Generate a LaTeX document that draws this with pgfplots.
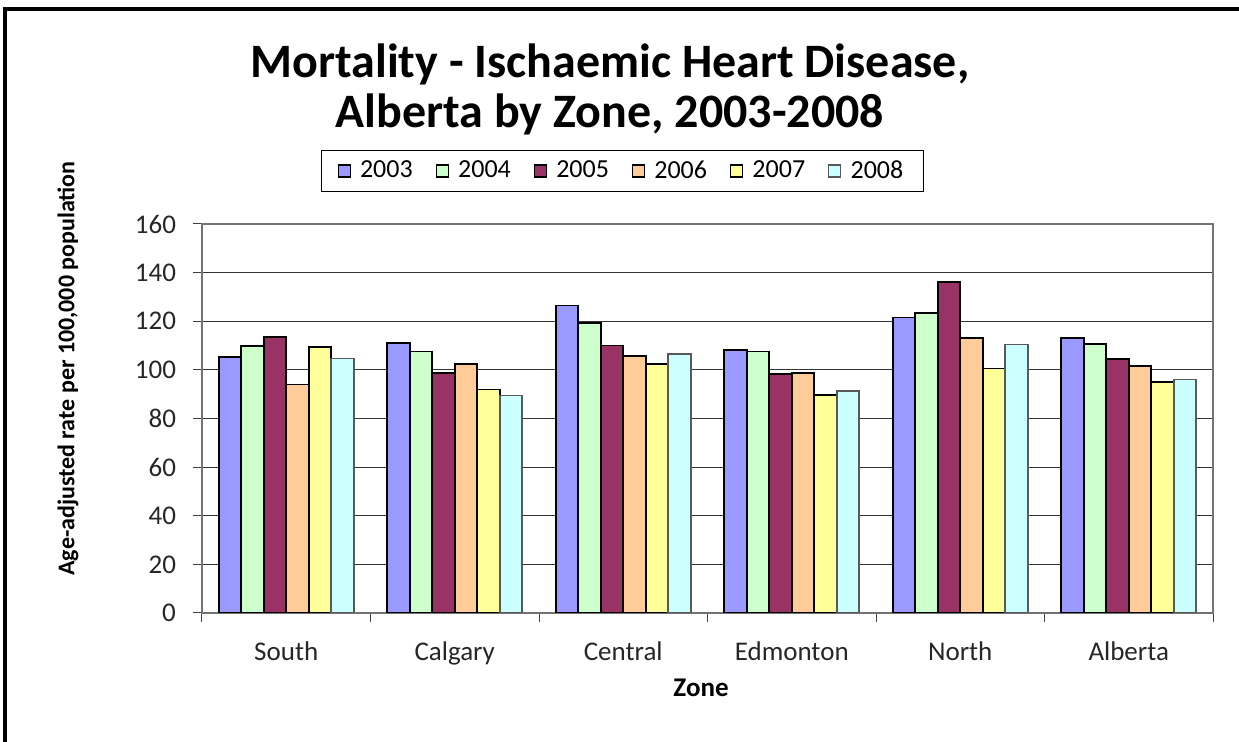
\documentclass[border=0pt]{standalone}
\usepackage{pgfplots}
\pgfplotsset{compat=1.18}
\usepackage{fontspec}
\setmainfont{Carlito}
\definecolor{c2003}{HTML}{9999FF}
\definecolor{c2004}{HTML}{CCFFCC}
\definecolor{c2005}{HTML}{993366}
\definecolor{c2006}{HTML}{FFCC99}
\definecolor{c2007}{HTML}{FFFF99}
\definecolor{c2008}{HTML}{CCFFFF}

\begin{document}
\begin{tikzpicture}
\useasboundingbox (0,0) rectangle (619.5pt,371pt);
% outer chart frame (cut off at right and bottom)
\draw[line width=1.6pt] (2.5pt,0) -- (2.5pt,366.5pt) -- (619.5pt,366.5pt);
\node[anchor=base, font=\bfseries\fontsize{24}{28}\selectfont] at (305pt,332pt) {Mortality - Ischaemic Heart Disease,};
\node[anchor=base, font=\bfseries\fontsize{24}{28}\selectfont] at (305pt,307pt) {Alberta by Zone, 2003-2008};
\begin{axis}[
    at={(101pt,64.5pt)}, anchor=south west,
    scale only axis, width=505.5pt, height=194.5pt,
    ybar, bar width=0.1335,
    xmin=-0.5, xmax=5.5, ymin=0, ymax=160,
    xtick={-0.5,0.5,1.5,2.5,3.5,4.5,5.5},
    x tick label as interval,
    xticklabels={South,Calgary,Central,Edmonton,North,Alberta},
    ytick={0,20,40,60,80,100,120,140,160},
    xtick pos=bottom, ytick pos=left,
    tick align=outside, major tick length=4.5pt,
    tick style={black!75, line width=0.5pt},
    ymajorgrids, grid style={black!80, line width=0.5pt},
    axis line style={black!55, line width=0.8pt},
    /pgf/number format/assume math mode=true,
    ticklabel style={font=\fontsize{13.5}{16}\selectfont, text=black!85},
    xticklabel style={yshift=-6.5pt},
    yticklabel style={xshift=-5pt},
    ylabel={Age-adjusted rate per 100,000 population},
    ylabel style={at={(axis description cs:-0.1325,0.6285)}, anchor=center,
        font=\bfseries\fontsize{12}{14}\selectfont},
    xlabel={Zone},
    xlabel style={at={(axis description cs:0.4936,-0.1928)}, anchor=center,
        font=\bfseries\fontsize{13.5}{16}\selectfont},
    legend columns=6,
    legend image code/.code={\draw[#1,line width=0.6pt] (0pt,-3pt) rectangle (6pt,3pt);
        \path (8.5pt,0pt);},
    legend style={at={(0.4159,1.1362)}, anchor=center, draw=black, line width=0.5pt,
        font=\fontsize{13}{15}\selectfont, inner xsep=8pt, inner ysep=3pt,
        /tikz/every even column/.append style={column sep=9.5pt}},
]
\addplot[fill=c2003, draw=black, line width=0.8pt, bar shift=-0.33375]
    coordinates {(0,105.4) (1,111.1) (2,126.4) (3,108.2) (4,121.5) (5,113.1)};
\addplot[fill=c2004, draw=black, line width=0.8pt, bar shift=-0.20025]
    coordinates {(0,109.7) (1,107.6) (2,119.3) (3,107.6) (4,123.3) (5,110.7)};
\addplot[fill=c2005, draw=black, line width=0.8pt, bar shift=-0.06675]
    coordinates {(0,113.6) (1,98.7) (2,110.1) (3,98.3) (4,136.1) (5,104.5)};
\addplot[fill=c2006, draw=black, line width=0.8pt, bar shift=0.06675]
    coordinates {(0,94.0) (1,102.5) (2,105.6) (3,98.7) (4,113.1) (5,101.6)};
\addplot[fill=c2007, draw=black, line width=0.8pt, bar shift=0.20025]
    coordinates {(0,109.3) (1,91.9) (2,102.5) (3,89.7) (4,100.6) (5,95.0)};
\addplot[fill=c2008, draw=black!65, line width=0.8pt, bar shift=0.33375]
    coordinates {(0,104.7) (1,89.5) (2,106.5) (3,91.3) (4,110.4) (5,96.1)};
\legend{2003,2004,2005,2006,2007,2008}
\end{axis}
\end{tikzpicture}
\end{document}
